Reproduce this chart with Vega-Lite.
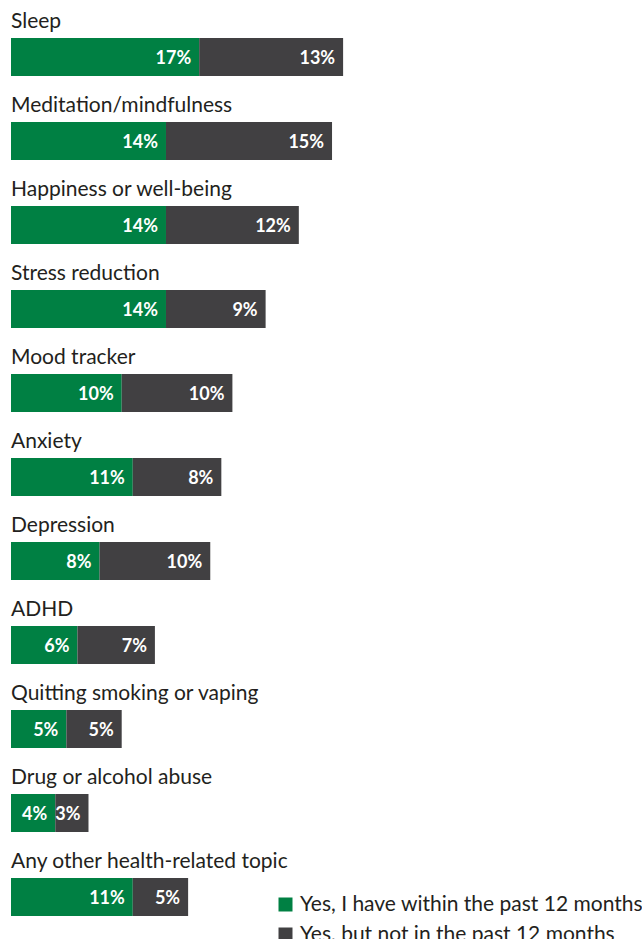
{
  "$schema": "https://vega.github.io/schema/vega-lite/v6.json",
  "width": 631,
  "height": 924,
  "autosize": "none",
  "padding": {"left": 11, "top": 15, "right": 0, "bottom": 0},
  "background": "white",
  "config": {"view": {"stroke": null}, "font": "Lato"},
  "data": {"values": [
    {"topic": "Sleep", "status": "Yes, I have within the past 12 months", "ord": 1, "value": 0.17},
    {"topic": "Sleep", "status": "Yes, but not in the past 12 months", "ord": 2, "value": 0.13},
    {"topic": "Meditation/mindfulness", "status": "Yes, I have within the past 12 months", "ord": 1, "value": 0.14},
    {"topic": "Meditation/mindfulness", "status": "Yes, but not in the past 12 months", "ord": 2, "value": 0.15},
    {"topic": "Happiness or well-being", "status": "Yes, I have within the past 12 months", "ord": 1, "value": 0.14},
    {"topic": "Happiness or well-being", "status": "Yes, but not in the past 12 months", "ord": 2, "value": 0.12},
    {"topic": "Stress reduction", "status": "Yes, I have within the past 12 months", "ord": 1, "value": 0.14},
    {"topic": "Stress reduction", "status": "Yes, but not in the past 12 months", "ord": 2, "value": 0.09},
    {"topic": "Mood tracker", "status": "Yes, I have within the past 12 months", "ord": 1, "value": 0.10},
    {"topic": "Mood tracker", "status": "Yes, but not in the past 12 months", "ord": 2, "value": 0.10},
    {"topic": "Anxiety", "status": "Yes, I have within the past 12 months", "ord": 1, "value": 0.11},
    {"topic": "Anxiety", "status": "Yes, but not in the past 12 months", "ord": 2, "value": 0.08},
    {"topic": "Depression", "status": "Yes, I have within the past 12 months", "ord": 1, "value": 0.08},
    {"topic": "Depression", "status": "Yes, but not in the past 12 months", "ord": 2, "value": 0.10},
    {"topic": "ADHD", "status": "Yes, I have within the past 12 months", "ord": 1, "value": 0.06},
    {"topic": "ADHD", "status": "Yes, but not in the past 12 months", "ord": 2, "value": 0.07},
    {"topic": "Quitting smoking or vaping", "status": "Yes, I have within the past 12 months", "ord": 1, "value": 0.05},
    {"topic": "Quitting smoking or vaping", "status": "Yes, but not in the past 12 months", "ord": 2, "value": 0.05},
    {"topic": "Drug or alcohol abuse", "status": "Yes, I have within the past 12 months", "ord": 1, "value": 0.04},
    {"topic": "Drug or alcohol abuse", "status": "Yes, but not in the past 12 months", "ord": 2, "value": 0.03},
    {"topic": "Any other health-related topic", "status": "Yes, I have within the past 12 months", "ord": 1, "value": 0.11},
    {"topic": "Any other health-related topic", "status": "Yes, but not in the past 12 months", "ord": 2, "value": 0.05}
  ]},
  "transform": [
    {"stack": "value", "groupby": ["topic"], "sort": [{"field": "ord", "order": "ascending"}], "as": ["x0", "x1"]}
  ],
  "encoding": {
    "y": {"field": "topic", "type": "nominal", "sort": null, "axis": null,
          "scale": {"paddingInner": 0, "paddingOuter": 0}}
  },
  "layer": [
    {
      "mark": {"type": "bar", "height": 38},
      "encoding": {
        "x": {"field": "x0", "type": "quantitative", "axis": null,
              "scale": {"domain": [0, 0.57], "nice": false, "zero": true}},
        "x2": {"field": "x1"},
        "color": {"field": "status", "type": "nominal",
          "scale": {"domain": ["Yes, I have within the past 12 months", "Yes, but not in the past 12 months"],
                    "range": ["#008043", "#414042"]},
          "legend": {"title": null, "orient": "none", "legendX": 264, "legendY": 879,
                     "symbolType": "square", "symbolSize": 196, "symbolStrokeWidth": 0,
                     "labelFontSize": 21, "labelFont": "Lato", "labelColor": "#231f20",
                     "labelOffset": 4, "rowPadding": 8, "padding": 0, "labelLimit": 400}}
      }
    },
    {
      "mark": {"type": "text", "align": "right", "baseline": "alphabetic", "dx": -8, "dy": 6.5,
               "font": "Lato", "fontSize": 18, "fontWeight": "bold", "color": "white"},
      "encoding": {
        "x": {"field": "x1", "type": "quantitative"},
        "text": {"field": "value", "type": "quantitative", "format": ".0%"}
      }
    },
    {
      "transform": [{"filter": "datum.ord == 1"}],
      "mark": {"type": "text", "align": "left", "baseline": "alphabetic", "dy": -29.5,
               "font": "Lato", "fontSize": 21, "color": "#231f20"},
      "encoding": {
        "x": {"datum": 0, "type": "quantitative"},
        "text": {"field": "topic", "type": "nominal"}
      }
    }
  ]
}
